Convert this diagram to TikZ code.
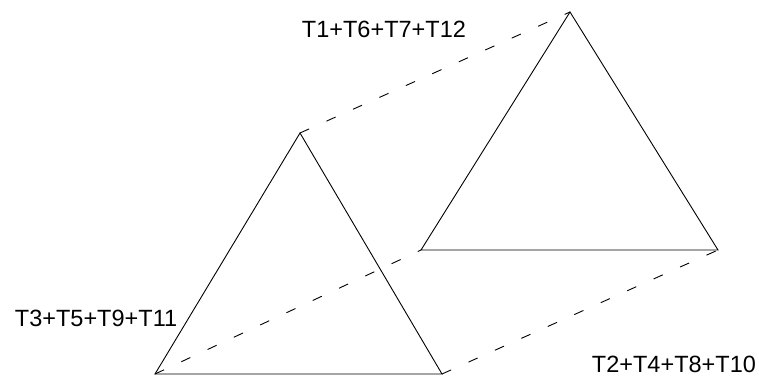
\documentclass[tikz,border=0pt]{standalone}
\usepackage{fontspec}
\setmainfont{Liberation Sans}
\begin{document}
\begin{tikzpicture}[x=1pt, y=-1pt, line width=0.9pt,
	link/.style={dash pattern=on 10pt off 19pt},
	tag/.style={anchor=base west, inner sep=0pt, font=\fontsize{23.5}{28}\selectfont}]
	\useasboundingbox (0, 0) rectangle (759, 381);
	% Corners of the two triangles:
	\coordinate (A1) at (300, 133);
	\coordinate (B1) at (155, 374);
	\coordinate (C1) at (442, 374);
	\coordinate (A2) at (570, 12);
	\coordinate (B2) at (421, 250);
	\coordinate (C2) at (718, 250);
	% Triangles:
	\draw (A1) -- (B1) -- (C1) -- cycle;
	\draw (A2) -- (B2) -- (C2) -- cycle;
	% Dashed links between corners:
	\draw[link] (A1) -- (A2);
	\draw[link] (B1) -- (B2);
	\draw[link] (C1) -- (C2);
	% Labels:
	\node[tag] (topL) at (301.5, 37.7) {T1+T6+T7+T12};
	\node[tag] (leftL) at (14.5, 326) {T3+T5+T9+T11};
	\node[tag] (rightL) at (591.5, 372.7) {T2+T4+T8+T10};
\end{tikzpicture}
\end{document}
